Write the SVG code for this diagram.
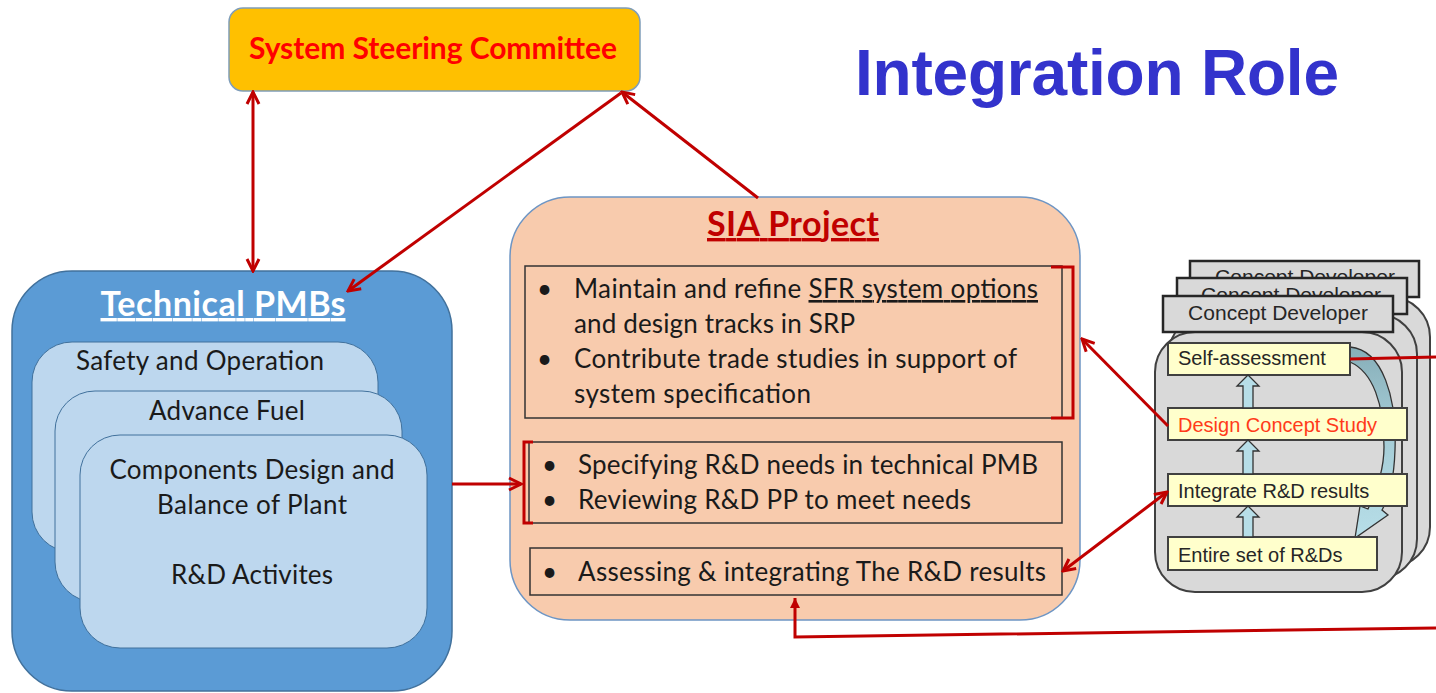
<svg xmlns="http://www.w3.org/2000/svg" width="1436" height="693" viewBox="0 0 1436 693">
  <style>
    .body { font-family: Lato, "Open Sans", sans-serif; font-size: 26px; fill: #1a1a1a; }
    .title { font-family: Lato, "Open Sans", sans-serif; font-weight: bold; font-size: 34px; }
    .cd { font-family: "Liberation Sans", Arial, sans-serif; font-size: 20px; fill: #262626; }
    .tab { fill: #d9d9d9; stroke: #262626; stroke-width: 2.5; }
    .cdbody { fill: #d9d9d9; stroke: #404040; stroke-width: 2; }
    .step { fill: #ffffcc; stroke: #404040; stroke-width: 2; }
    .uparrow { fill: #b7dee8; stroke: #333333; stroke-width: 1.3; }
    .pmb { fill: #bdd7ee; stroke: #41719c; stroke-width: 1; }
    .frame { fill: none; stroke: #333333; stroke-width: 1.5; }
    .link { fill: none; stroke: #c00000; stroke-width: 3; }
    .bracket { fill: none; stroke: #c00000; stroke-width: 3; }
  </style>
  <defs>
    <marker id="vhead" viewBox="0 0 16 16" refX="14" refY="8" markerWidth="16" markerHeight="16" markerUnits="userSpaceOnUse" orient="auto-start-reverse">
      <path d="M2,2 L14,8 L2,14" fill="none" stroke="#c00000" stroke-width="3"/>
    </marker>
    <marker id="solidhead" viewBox="0 0 12 12" refX="11" refY="6" markerWidth="12" markerHeight="12" markerUnits="userSpaceOnUse" orient="auto">
      <path d="M1,1 L11,6 L1,11 Z" fill="#c00000"/>
    </marker>
    <linearGradient id="loopFill" x1="0" y1="0" x2="0" y2="1">
      <stop offset="0" stop-color="#86aeb8"/>
      <stop offset="0.4" stop-color="#a3cad4"/>
      <stop offset="1" stop-color="#b7dee8"/>
    </linearGradient>
  </defs>

  <rect width="1436" height="693" fill="#ffffff"/>

  <!-- heading -->
  <text id="heading" x="855" y="95" font-family="'Liberation Sans', Arial, sans-serif" font-weight="bold" font-size="64" fill="#3333cc" textLength="484">Integration Role</text>

  <!-- steering committee -->
  <g id="committee">
    <rect x="229" y="8" width="411" height="83" rx="14" fill="#ffc000" stroke="#7f9db9" stroke-width="1.5"/>
    <text class="title" x="433" y="59" text-anchor="middle" style="font-size:30px" fill="#ff0000" textLength="368">System Steering Committee</text>
  </g>

  <!-- technical PMBs -->
  <g id="technical-pmbs">
    <rect x="12" y="271" width="440" height="420" rx="60" fill="#5b9bd5" stroke="#41719c" stroke-width="1.5"/>
    <text class="title" x="223" y="316" text-anchor="middle" fill="#ffffff" text-decoration="underline" textLength="245">Technical PMBs</text>
    <g id="pmb-safety">
      <rect class="pmb" x="32" y="342" width="346" height="210" rx="40"/>
      <text class="body" x="200" y="370" text-anchor="middle" textLength="248">Safety and Operation</text>
    </g>
    <g id="pmb-fuel">
      <rect class="pmb" x="55" y="391" width="347" height="211" rx="40"/>
      <text class="body" x="227" y="420" text-anchor="middle" textLength="156">Advance Fuel</text>
    </g>
    <g id="pmb-components">
      <rect class="pmb" x="80" y="435" width="347" height="213" rx="40"/>
      <text class="body" x="252" y="479" text-anchor="middle" textLength="285">Components Design and</text>
      <text class="body" x="252" y="514" text-anchor="middle" textLength="190">Balance of Plant</text>
      <text class="body" x="252" y="584" text-anchor="middle" textLength="162">R&amp;D Activites</text>
    </g>
  </g>

  <!-- SIA project -->
  <g id="sia-project">
    <rect x="510" y="197" width="570" height="423" rx="60" fill="#f8cbad" stroke="#6d95c4" stroke-width="1.5"/>
    <text class="title" x="793" y="236" text-anchor="middle" fill="#c00000" text-decoration="underline" textLength="172">SIA Project</text>

    <g id="sia-options">
      <rect class="frame" x="525" y="266" width="537" height="152"/>
      <text class="body" x="537" y="298">•</text>
      <text class="body" x="574" y="298" textLength="464">Maintain and refine <tspan text-decoration="underline">SFR system options</tspan></text>
      <text class="body" x="574" y="333" textLength="281">and design tracks in SRP</text>
      <text class="body" x="537" y="368">•</text>
      <text class="body" x="574" y="368" textLength="443">Contribute trade studies in support of</text>
      <text class="body" x="574" y="403" textLength="237">system specification</text>
    </g>

    <g id="sia-needs">
      <rect class="frame" x="529" y="442" width="533" height="81"/>
      <text class="body" x="542" y="474">•</text>
      <text class="body" x="578" y="474" textLength="460">Specifying R&amp;D needs in technical PMB</text>
      <text class="body" x="542" y="509">•</text>
      <text class="body" x="578" y="509" textLength="393">Reviewing R&amp;D PP to meet needs</text>
    </g>

    <g id="sia-assessing">
      <rect class="frame" x="530" y="548" width="532" height="47"/>
      <text class="body" x="542" y="581">•</text>
      <text class="body" x="578" y="581" textLength="468">Assessing &amp; integrating The R&amp;D results</text>
    </g>

    <path class="bracket" d="M1051,267 H1073 V418 H1051"/>
    <path class="bracket" d="M533,442 H524 V523 H533"/>
  </g>

  <!-- concept developer stack -->
  <g id="concept-developer">
    <!-- rear copy -->
    <rect class="cdbody" x="1183" y="297" width="247" height="270" rx="40"/>
    <rect class="tab" x="1190" y="261" width="229" height="36"/>
    <text class="cd" x="1305" y="284" text-anchor="middle" style="font-size:21px">Concept Developer</text>
    <!-- middle copy -->
    <rect class="cdbody" x="1169" y="314" width="248" height="265" rx="40"/>
    <rect class="tab" x="1177" y="278" width="230" height="36"/>
    <text class="cd" x="1291" y="302" text-anchor="middle" style="font-size:21px">Concept Developer</text>
    <!-- front copy -->
    <rect class="cdbody" x="1155" y="332" width="247" height="260" rx="40"/>
    <rect class="tab" x="1163" y="296" width="230" height="36"/>
    <text class="cd" x="1278" y="320" text-anchor="middle" style="font-size:21px">Concept Developer</text>

    <!-- feedback loop from self-assessment back down to the R&D set -->
    <path d="M1350,347 C1383,350 1397,398 1395,450 C1394,480 1389,498 1382,510 L1388,515 L1355,538 L1360,506 L1368,509 C1377,490 1384,470 1384,447 C1384,404 1373,372 1350,362 Z" fill="url(#loopFill)" stroke="#333333" stroke-width="1.3"/>

    <g id="step-self">
      <rect class="step" x="1168" y="343" width="182" height="32"/>
      <text class="cd" x="1178" y="365">Self-assessment</text>
    </g>
    <g id="step-design">
      <rect class="step" x="1168" y="408" width="239" height="32"/>
      <text class="cd" x="1178" y="432" style="fill:#ff3b1a">Design Concept Study</text>
    </g>
    <g id="step-integrate">
      <rect class="step" x="1168" y="474" width="239" height="32"/>
      <text class="cd" x="1178" y="498">Integrate R&amp;D results</text>
    </g>
    <g id="step-entire">
      <rect class="step" x="1168" y="537" width="209" height="33"/>
      <text class="cd" x="1178" y="562">Entire set of R&amp;Ds</text>
    </g>

    <!-- upward block arrows between steps -->
    <path class="uparrow" d="M1248,375 L1259,386 L1253,386 L1253,408 L1243,408 L1243,386 L1237,386 Z"/>
    <path class="uparrow" d="M1248,440 L1259,451 L1253,451 L1253,474 L1243,474 L1243,451 L1237,451 Z"/>
    <path class="uparrow" d="M1248,506 L1259,517 L1253,517 L1253,537 L1243,537 L1243,517 L1237,517 Z"/>
  </g>

  <!-- connectors -->
  <g id="connectors">
    <line class="link" x1="253" y1="92" x2="253" y2="271" marker-start="url(#vhead)" marker-end="url(#vhead)"/>
    <line class="link" x1="621" y1="93" x2="348" y2="291" marker-end="url(#vhead)"/>
    <line class="link" x1="758" y1="198" x2="622" y2="92" marker-end="url(#vhead)"/>
    <line class="link" x1="452" y1="484" x2="521" y2="484" marker-end="url(#vhead)"/>
    <line class="link" x1="1168" y1="426" x2="1082" y2="339" marker-end="url(#vhead)"/>
    <line class="link" x1="1167" y1="492" x2="1063" y2="571" marker-start="url(#vhead)" marker-end="url(#vhead)"/>
    <line class="link" x1="1350" y1="359" x2="1436" y2="357"/>
    <polyline class="link" points="1436,628 795,637 795,598" marker-end="url(#solidhead)"/>
  </g>
</svg>
